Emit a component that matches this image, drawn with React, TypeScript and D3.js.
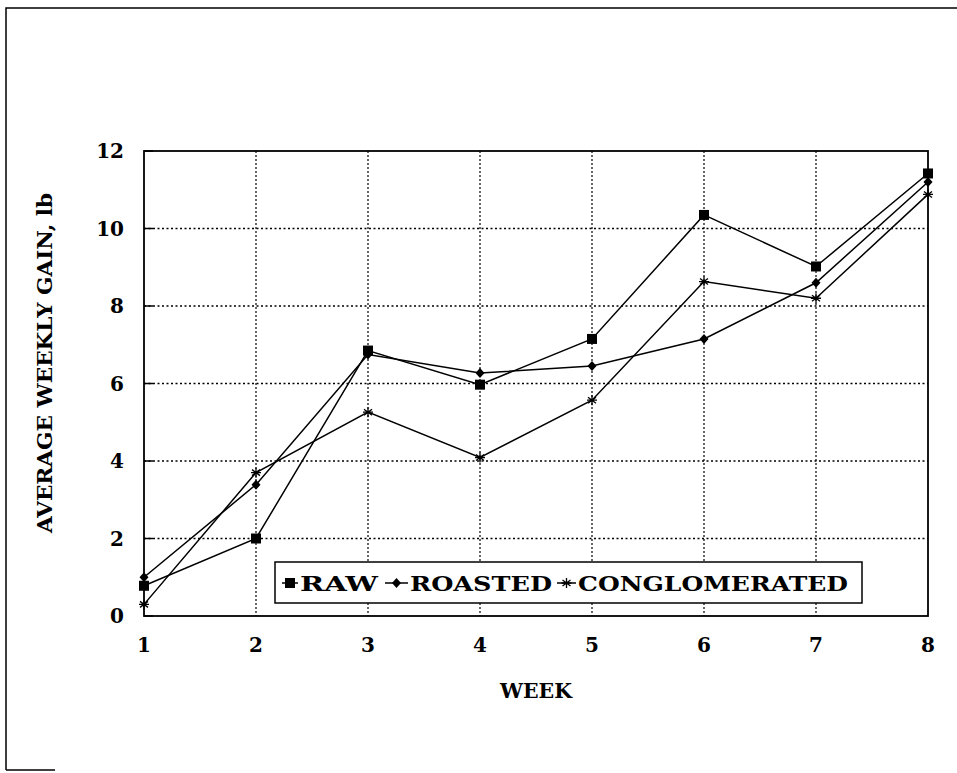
import React from 'react';
import * as d3 from 'd3';

const weeks = [1, 2, 3, 4, 5, 6, 7, 8];
const raw = [0.78, 2.0, 6.85, 5.97, 7.15, 10.35, 9.02, 11.42];
const roasted = [1.0, 3.39, 6.75, 6.27, 6.45, 7.15, 8.6, 11.2];
const conglomerated = [0.3, 3.7, 5.26, 4.09, 5.57, 8.63, 8.2, 10.88];
const yTicks = [0, 2, 4, 6, 8, 10, 12];

const font = '"DejaVu Serif", "Liberation Serif", serif';

const margin = { left: 144, right: 29, top: 151, bottom: 157 };
const W = 957;
const H = 773;

function Marker({ kind, x, y }: { kind: string; x: number; y: number }) {
  if (kind === 'square') {
    return <rect x={x - 5} y={y - 5} width={10} height={10} fill="#000" />;
  }
  if (kind === 'diamond') {
    return <path d={`M${x},${y - 5}L${x + 4.5},${y}L${x},${y + 5}L${x - 4.5},${y}Z`} fill="#000" />;
  }
  const r = 5;
  return (
    <path
      d={`M${x - r},${y}H${x + r}M${x},${y - r}V${y + r}M${x - 4},${y - 3}L${x + 4},${y + 3}M${x - 4},${y + 3}L${x + 4},${y - 3}`}
      stroke="#000"
      strokeWidth={1.3}
      fill="none"
    />
  );
}

export default function App() {
  const x = d3.scaleLinear().domain([1, 8]).range([margin.left, W - margin.right]);
  const y = d3.scaleLinear().domain([0, 12]).range([H - margin.bottom, margin.top]);
  const line = d3
    .line<number>()
    .x((_, i) => x(weeks[i]))
    .y((d) => y(d));

  const series = [
    { name: 'RAW', values: raw, kind: 'square' },
    { name: 'ROASTED', values: roasted, kind: 'diamond' },
    { name: 'CONGLOMERATED', values: conglomerated, kind: 'star' },
  ];

  const legendItems = [
    { lx: 282, tx: 300, len: 78 },
    { lx: 385, tx: 410, len: 142 },
    { lx: 557, tx: 578, len: 270 },
  ];

  const x0 = x(1);
  const x1 = x(8);
  const y0 = y(0);
  const y1 = y(12);

  return (
    <svg width={W} height={H} style={{ position: 'absolute', left: 0, top: 0, background: '#fff' }}>
      {/* page border */}
      <path d="M6,770V8H957" stroke="#000" strokeWidth={1.5} fill="none" />
      <path d="M6,770H55" stroke="#000" strokeWidth={1.5} fill="none" />

      {/* grid */}
      {yTicks.slice(1, -1).map((t) => (
        <line key={'gy' + t} x1={x0} x2={x1} y1={y(t)} y2={y(t)} stroke="#000" strokeWidth={1.5} strokeDasharray="2,2.5" />
      ))}
      {weeks.slice(1, -1).map((w) => (
        <line key={'gx' + w} x1={x(w)} x2={x(w)} y1={y1} y2={y0} stroke="#000" strokeWidth={1.2} strokeDasharray="2,2" />
      ))}

      {/* ticks */}
      {yTicks.map((t) => (
        <line key={'ty' + t} x1={x0} x2={x0 + 9} y1={y(t)} y2={y(t)} stroke="#000" strokeWidth={1.5} />
      ))}
      <rect x={x0} y={y1} width={x1 - x0} height={y0 - y1} fill="none" stroke="#000" strokeWidth={1.8} />

      {/* lines */}
      {series.map((s) => (
        <path key={s.name} d={line(s.values) || ''} fill="none" stroke="#000" strokeWidth={1.5} />
      ))}
      {series.map((s) =>
        s.values.map((v, i) => <Marker key={s.name + i} kind={s.kind} x={x(weeks[i])} y={y(v)} />)
      )}

      {/* tick labels */}
      {yTicks.map((t) => (
        <text key={'ly' + t} x={x0 - 20} y={y(t) + 7} textAnchor="end" fontFamily={font} fontWeight="bold" fontSize={20}>
          {t}
        </text>
      ))}
      {weeks.map((w) => (
        <text key={'lx' + w} x={x(w)} y={652} textAnchor="middle" fontFamily={font} fontWeight="bold" fontSize={20}>
          {w}
        </text>
      ))}

      {/* axis titles */}
      <text x={536} y={698} textAnchor="middle" fontFamily={font} fontWeight="bold" fontSize={20} textLength={72} lengthAdjust="spacingAndGlyphs">
        WEEK
      </text>
      <text
        transform="translate(52,363) rotate(-90)"
        textAnchor="middle"
        fontFamily={font}
        fontWeight="bold"
        fontSize={21}
        textLength={340}
        lengthAdjust="spacingAndGlyphs"
      >
        AVERAGE WEEKLY GAIN, lb
      </text>

      {/* legend */}
      <rect x={275} y={562} width={587} height={41} fill="#fff" stroke="#000" strokeWidth={1.5} />
      {series.map((s, i) => {
        const it = legendItems[i];
        const cy = 583;
        return (
          <g key={'lg' + s.name}>
            <line x1={it.lx} x2={it.tx - 2} y1={cy} y2={cy} stroke="#000" strokeWidth={1.5} />
            <Marker kind={s.kind} x={(it.lx + it.tx - 2) / 2} y={cy} />
            <text
              x={it.tx}
              y={cy + 8}
              fontFamily={font}
              fontWeight="bold"
              fontSize={21}
              textLength={it.len}
              lengthAdjust="spacingAndGlyphs"
            >
              {s.name}
            </text>
          </g>
        );
      })}
    </svg>
  );
}
